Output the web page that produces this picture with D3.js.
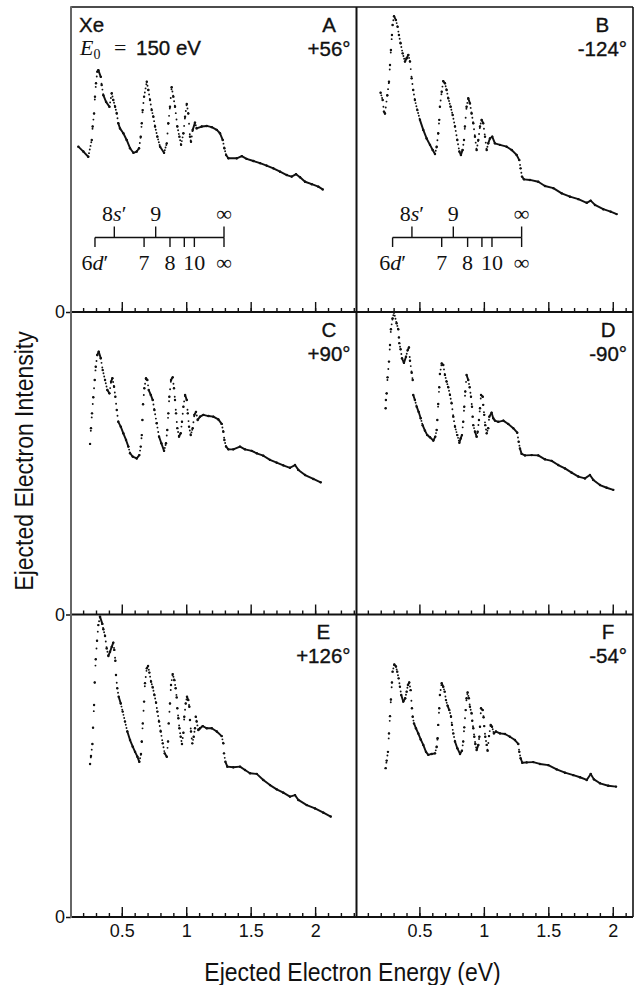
<!DOCTYPE html>
<html>
<head>
<meta charset="utf-8">
<script src="https://cdn.jsdelivr.net/npm/d3@7"></script>
<style>
  body { margin: 0; background: #fff; }
  svg { display: block; }
</style>
</head>
<body>
<svg id="chart" width="637" height="985"></svg>
<script>
// spectra: [ejected electron energy (eV), intensity (% of panel height)]
const panelA = [[0.163,54.2],[0.202,52.6],[0.240,50.9],[0.267,56.4],[0.274,60.8],[0.285,65.1],[0.292,70.6],[0.300,75.0],[0.310,78.8],[0.318,79.3],[0.337,77.1],[0.344,74.4],[0.357,71.1],[0.378,68.9],[0.404,67.3],[0.422,71.7],[0.434,69.5],[0.448,67.3],[0.461,65.1],[0.473,61.9],[0.486,60.2],[0.512,58.6],[0.538,56.4],[0.564,53.7],[0.590,52.2],[0.616,52.6],[0.634,53.7],[0.647,57.5],[0.655,61.9],[0.662,66.2],[0.673,70.6],[0.694,75.5],[0.706,72.8],[0.719,69.5],[0.732,66.2],[0.745,64.0],[0.758,60.8],[0.776,57.5],[0.797,54.2],[0.828,52.2],[0.849,55.3],[0.861,61.9],[0.874,67.3],[0.887,73.7],[0.900,70.6],[0.913,67.3],[0.931,60.8],[0.947,57.5],[0.960,54.8],[0.978,58.6],[0.991,64.0],[1.004,68.2],[1.016,65.1],[1.029,57.5],[1.037,55.8],[1.050,59.7],[1.068,62.1],[1.081,60.2],[1.120,60.8],[1.159,61.0],[1.198,60.6],[1.237,59.7],[1.262,58.6],[1.283,56.4],[1.296,53.7],[1.309,51.5],[1.327,50.4],[1.392,50.4],[1.431,51.1],[1.469,50.2],[1.521,49.5],[1.573,48.8],[1.624,48.0],[1.676,47.1],[1.728,46.0],[1.780,44.9],[1.818,44.4],[1.852,45.2],[1.883,44.2],[1.922,42.7],[1.974,41.9],[2.025,41.1],[2.059,40.2]]

const panelB = [[0.199,71.9],[0.215,69.5],[0.225,65.7],[0.233,65.1],[0.251,71.1],[0.264,75.5],[0.272,81.0],[0.279,85.9],[0.287,90.8],[0.292,94.1],[0.303,97.0],[0.318,95.7],[0.331,93.5],[0.341,90.8],[0.354,88.1],[0.370,84.8],[0.388,82.1],[0.401,83.2],[0.414,84.3],[0.427,82.1],[0.440,76.6],[0.452,72.8],[0.465,69.5],[0.484,66.2],[0.504,63.0],[0.530,59.7],[0.556,56.9],[0.582,54.8],[0.603,53.1],[0.621,51.8],[0.634,54.2],[0.646,58.6],[0.654,63.0],[0.659,67.3],[0.673,72.2],[0.685,75.7],[0.698,75.0],[0.711,72.8],[0.724,70.1],[0.742,67.3],[0.758,64.6],[0.776,60.8],[0.794,56.4],[0.810,52.6],[0.822,51.5],[0.835,53.1],[0.846,56.4],[0.853,60.8],[0.866,67.3],[0.879,70.1],[0.892,68.4],[0.905,65.1],[0.918,61.9],[0.931,57.5],[0.944,53.1],[0.957,56.4],[0.970,60.8],[0.983,63.0],[0.995,61.9],[1.009,57.5],[1.022,53.1],[1.034,55.3],[1.047,56.9],[1.065,57.5],[1.086,55.3],[1.125,54.8],[1.177,54.2],[1.216,53.1],[1.254,51.5],[1.275,49.8],[1.285,47.1],[1.296,44.4],[1.311,43.5],[1.358,43.3],[1.422,42.7],[1.474,41.3],[1.539,40.6],[1.604,38.9],[1.668,37.8],[1.733,37.0],[1.798,35.8],[1.829,36.5],[1.862,35.1],[1.926,33.7],[1.984,32.9],[2.030,32.1]]

const panelC = [[0.254,56.4],[0.261,61.6],[0.269,66.5],[0.279,71.8],[0.290,77.5],[0.298,81.9],[0.310,85.8],[0.321,86.9],[0.337,84.7],[0.352,80.8],[0.370,77.5],[0.388,74.2],[0.404,73.1],[0.417,77.0],[0.427,78.1],[0.440,75.3],[0.450,72.0],[0.461,67.6],[0.473,63.7],[0.492,62.1],[0.512,59.9],[0.533,57.7],[0.551,55.5],[0.564,53.3],[0.585,52.2],[0.616,51.6],[0.636,52.7],[0.647,55.5],[0.655,59.3],[0.660,64.3],[0.665,69.5],[0.675,74.8],[0.688,78.1],[0.698,77.5],[0.709,74.2],[0.725,72.6],[0.740,70.9],[0.753,67.6],[0.771,63.2],[0.789,58.8],[0.807,56.6],[0.828,54.1],[0.843,56.6],[0.853,61.0],[0.861,66.5],[0.869,72.0],[0.882,77.5],[0.895,78.4],[0.905,74.8],[0.913,70.9],[0.921,66.5],[0.931,61.6],[0.944,58.8],[0.957,59.9],[0.967,63.7],[0.978,68.7],[0.991,72.6],[1.004,70.9],[1.012,66.5],[1.022,62.1],[1.035,59.3],[1.050,61.6],[1.063,66.0],[1.076,67.0],[1.089,64.3],[1.107,65.4],[1.133,66.0],[1.172,65.6],[1.210,65.4],[1.249,64.5],[1.275,63.0],[1.288,60.4],[1.296,57.7],[1.309,55.5],[1.327,54.6],[1.365,54.6],[1.417,55.5],[1.456,54.6],[1.508,54.1],[1.547,53.3],[1.598,52.5],[1.650,51.1],[1.702,50.2],[1.753,49.3],[1.805,48.5],[1.844,49.4],[1.870,47.8],[1.922,46.1],[1.986,44.8],[2.043,43.7]]

const panelD = [[0.238,68.2],[0.240,70.9],[0.246,73.1],[0.253,78.4],[0.264,83.6],[0.272,89.1],[0.279,94.3],[0.292,97.9],[0.303,99.8],[0.323,96.3],[0.336,94.3],[0.341,91.6],[0.344,89.7],[0.354,87.7],[0.365,84.7],[0.380,83.2],[0.396,85.2],[0.409,87.4],[0.419,88.3],[0.427,83.9],[0.440,79.9],[0.448,77.5],[0.452,72.6],[0.465,70.9],[0.479,68.7],[0.494,67.0],[0.510,64.9],[0.525,62.6],[0.543,60.8],[0.561,59.3],[0.582,58.6],[0.608,57.5],[0.623,58.8],[0.634,61.0],[0.639,64.3],[0.646,69.6],[0.654,75.1],[0.659,79.5],[0.673,83.0],[0.685,82.5],[0.698,79.2],[0.711,77.0],[0.724,75.1],[0.737,72.6],[0.750,69.8],[0.763,65.4],[0.776,62.1],[0.794,59.3],[0.810,56.8],[0.820,58.2],[0.830,59.3],[0.840,63.7],[0.848,68.7],[0.856,73.7],[0.866,79.2],[0.879,77.5],[0.890,75.1],[0.900,72.0],[0.908,68.7],[0.913,65.4],[0.918,62.6],[0.931,60.4],[0.944,58.8],[0.952,60.4],[0.962,64.3],[0.970,68.2],[0.978,72.6],[0.991,72.0],[0.995,69.3],[1.003,66.0],[1.011,62.6],[1.022,59.9],[1.034,61.6],[1.042,65.4],[1.060,66.7],[1.073,64.9],[1.086,64.1],[1.112,63.7],[1.151,64.1],[1.189,63.0],[1.228,61.6],[1.259,60.1],[1.270,57.1],[1.280,54.9],[1.293,53.1],[1.319,52.6],[1.371,52.7],[1.422,52.6],[1.474,51.3],[1.526,50.8],[1.577,49.4],[1.629,48.3],[1.681,46.9],[1.733,45.6],[1.784,45.0],[1.823,46.1],[1.849,44.5],[1.901,42.8],[1.953,41.9],[2.004,41.2]]

const panelE = [[0.254,50.6],[0.261,53.2],[0.272,57.2],[0.277,62.6],[0.285,70.1],[0.290,77.5],[0.298,85.2],[0.308,91.3],[0.318,96.5],[0.331,99.3],[0.349,96.9],[0.357,95.1],[0.370,92.9],[0.383,88.8],[0.396,86.3],[0.409,87.7],[0.422,89.3],[0.434,90.7],[0.442,88.3],[0.450,84.7],[0.455,80.0],[0.465,75.6],[0.476,72.8],[0.492,70.6],[0.507,67.9],[0.525,64.6],[0.543,61.3],[0.564,58.5],[0.585,56.3],[0.603,54.6],[0.621,53.0],[0.636,51.3],[0.649,53.9],[0.655,58.0],[0.663,64.0],[0.673,71.2],[0.680,77.3],[0.694,82.2],[0.704,83.0],[0.714,80.8],[0.727,77.8],[0.740,75.9],[0.753,73.4],[0.766,70.8],[0.776,67.9],[0.789,64.6],[0.802,61.3],[0.818,57.4],[0.833,54.1],[0.849,53.0],[0.859,58.0],[0.864,64.0],[0.874,70.6],[0.882,76.7],[0.895,80.3],[0.908,78.3],[0.918,75.6],[0.926,72.6],[0.931,69.0],[0.939,65.7],[0.947,62.4],[0.957,59.6],[0.967,57.2],[0.978,60.9],[0.985,66.2],[0.996,70.6],[1.006,72.8],[1.016,71.7],[1.024,69.5],[1.029,65.1],[1.037,61.3],[1.047,57.4],[1.058,59.6],[1.068,62.4],[1.074,66.2],[1.081,64.6],[1.094,61.8],[1.107,62.4],[1.128,63.1],[1.159,62.4],[1.198,62.4],[1.237,61.3],[1.275,59.8],[1.288,57.4],[1.293,54.1],[1.304,51.3],[1.319,49.7],[1.365,49.5],[1.417,49.7],[1.456,48.6],[1.495,47.5],[1.547,47.3],[1.598,45.3],[1.650,43.6],[1.702,42.2],[1.753,41.1],[1.805,39.8],[1.844,40.3],[1.870,38.7],[1.935,37.0],[1.999,35.9],[2.064,34.5],[2.121,33.2]]

const panelF = [[0.238,49.2],[0.246,51.7],[0.256,54.6],[0.264,60.7],[0.272,66.4],[0.279,71.9],[0.287,77.5],[0.292,81.1],[0.305,83.5],[0.318,82.8],[0.328,81.1],[0.339,78.9],[0.349,76.1],[0.359,73.4],[0.375,71.2],[0.390,72.3],[0.401,74.5],[0.411,76.7],[0.421,77.5],[0.432,75.0],[0.442,69.0],[0.448,66.2],[0.458,64.0],[0.473,62.4],[0.491,60.7],[0.510,58.7],[0.530,56.9],[0.551,54.6],[0.569,53.6],[0.595,53.9],[0.621,54.1],[0.634,56.3],[0.641,59.1],[0.646,63.5],[0.654,69.0],[0.659,73.4],[0.673,77.3],[0.685,76.1],[0.696,74.5],[0.706,71.7],[0.719,69.8],[0.732,68.4],[0.745,66.2],[0.753,63.5],[0.763,60.7],[0.776,58.0],[0.794,55.8],[0.815,53.9],[0.830,55.0],[0.840,58.0],[0.848,62.7],[0.859,68.4],[0.866,72.3],[0.874,74.2],[0.884,72.3],[0.892,69.5],[0.905,67.3],[0.910,64.9],[0.918,62.4],[0.926,59.6],[0.934,57.2],[0.944,55.2],[0.957,56.9],[0.965,59.6],[0.970,62.9],[0.978,69.0],[0.991,68.4],[0.998,66.0],[1.003,63.1],[1.011,59.6],[1.022,56.9],[1.029,55.0],[1.040,59.8],[1.053,63.5],[1.063,62.9],[1.078,60.7],[1.094,61.3],[1.125,60.7],[1.164,60.5],[1.202,59.6],[1.241,58.5],[1.267,57.2],[1.275,54.6],[1.285,52.5],[1.298,51.0],[1.332,51.1],[1.383,51.2],[1.435,50.6],[1.500,50.2],[1.565,48.8],[1.629,47.7],[1.694,46.9],[1.746,46.2],[1.798,45.3],[1.829,47.3],[1.854,45.5],[1.901,44.2],[1.965,43.4],[2.025,43.1]]

const panelSeries = [panelA, panelB, panelC, panelD, panelE, panelF]
const panelLetters = ['A', 'B', 'C', 'D', 'E', 'F']
const panelAngles = ['+56°', '-124°', '+90°', '-90°', '+126°', '-54°']
const xTickValues = [0.5, 1, 1.5, 2]
const yTickValues = [0]

// Rydberg level markers (eV)
const sPrimeLevels = [0.442, 0.763, 1.293]
const sPrimeLabels = ['8s′', '9', '∞']
const dPrimeLevels = [0.292, 0.673, 0.874, 0.985, 1.063, 1.293]
const dPrimeLabels = ['6d′', '7', '8', '', '10', '∞']

// layout
const colRange = [[71, 356.5], [356.5, 633]]
const rowRange = [[7, 312], [312, 614.5], [614.5, 917]]
const xDomains = [[0.106, 2.321], [0.012, 2.157]]
const sans = "'Liberation Sans', Arial, sans-serif"
const serif = "'Liberation Serif', 'Times New Roman', serif"
const ink = '#111'
const dotStep = 0.75

const svg = d3.select('#chart')

function drawSpectrum(g, series, x, y) {
  const pts = series.map(d => [x(d[0]), y(d[1])])
  const line = d3.line()
  g.append('g')
    .attr('class', 'spectrum')
    .selectAll('path')
    .data(d3.pairs(pts))
    .join('path')
    .attr('d', d => line(d))
    .attr('fill', 'none')
    .attr('stroke', ink)
    .attr('stroke-width', 1.9)
    .attr('stroke-linecap', 'round')
    .attr('stroke-dasharray', d => {
      const dx = Math.abs(d[1][0] - d[0][0])
      const len = Math.hypot(d[1][0] - d[0][0], d[1][1] - d[0][1])
      const gap = dotStep * len / Math.max(dx, 0.05)
      return gap < 2.6 ? null : `0 ${gap}`
    })
  g.append('g')
    .attr('class', 'points')
    .selectAll('circle')
    .data(series)
    .join('circle')
    .attr('cx', d => x(d[0]))
    .attr('cy', d => y(d[1]))
    .attr('r', 1.2)
    .attr('fill', ink)
}

function levelLabel(sel) {
  sel.each(function (d) {
    const t = d3.select(this)
    const m = d.label.match(/^(\d+)([sd])′$/)
    if (m) {
      t.append('tspan').text(m[1])
      t.append('tspan').attr('font-style', 'italic').text(m[2])
      t.append('tspan').text('′')
    } else {
      t.text(d.label)
    }
  })
}

function drawLevels(g, x, base) {
  const lv = g.append('g').attr('class', 'levels')
  const upper = d3.zip(sPrimeLevels, sPrimeLabels).map(([e, label]) => ({ e, label }))
  const lower = d3.zip(dPrimeLevels, dPrimeLabels).map(([e, label]) => ({ e, label }))

  lv.append('line')
    .attr('x1', x(d3.min(dPrimeLevels)))
    .attr('x2', x(d3.max(dPrimeLevels)))
    .attr('y1', base)
    .attr('y2', base)
  lv.selectAll('.s-tick')
    .data(upper)
    .join('line')
    .attr('class', 's-tick')
    .attr('x1', d => x(d.e))
    .attr('x2', d => x(d.e))
    .attr('y1', base)
    .attr('y2', base - 11)
  lv.selectAll('.d-tick')
    .data(lower)
    .join('line')
    .attr('class', 'd-tick')
    .attr('x1', d => x(d.e))
    .attr('x2', d => x(d.e))
    .attr('y1', base)
    .attr('y2', base + 9.5)
  lv.selectAll('line').attr('stroke', ink).attr('stroke-width', 1.4)

  lv.selectAll('.s-label')
    .data(upper)
    .join('text')
    .attr('class', 's-label')
    .attr('x', d => x(d.e))
    .attr('y', base - 17)
    .call(levelLabel)
  lv.selectAll('.d-label')
    .data(lower.filter(d => d.label))
    .join('text')
    .attr('class', 'd-label')
    .attr('x', d => x(d.e))
    .attr('y', base + 32)
    .call(levelLabel)
  lv.selectAll('text')
    .attr('text-anchor', 'middle')
    .attr('font-family', serif)
    .attr('font-size', 22)
    .attr('fill', ink)
}

panelSeries.forEach((series, i) => {
  const col = i % 2
  const row = Math.floor(i / 2)
  const [top, bottom] = rowRange[row]
  const right = colRange[col][1]
  const x = d3.scaleLinear().domain(xDomains[col]).range(colRange[col])
  const y = d3.scaleLinear().domain([0, 100]).range([bottom, top])
  const g = svg.append('g').attr('class', `panel panel-${panelLetters[i]}`)

  // inward ticks along the bottom edge: minor every 0.1 eV, major every 0.5 eV
  const tickG = g.append('g').attr('transform', `translate(0,${bottom})`).attr('color', ink)
  tickG.append('g')
    .call(d3.axisTop(x).tickValues(x.ticks(20)).tickSize(4).tickFormat(''))
    .call(a => a.select('.domain').remove())
  tickG.append('g')
    .call(d3.axisTop(x).tickValues(xTickValues).tickSize(10).tickFormat(''))
    .call(a => a.select('.domain').remove())
  tickG.selectAll('line').attr('stroke-width', 1.4)

  if (row === 2) {
    const lab = g.append('g')
      .attr('transform', `translate(0,${bottom})`)
      .call(d3.axisBottom(x).tickValues(xTickValues).tickSize(0).tickFormat(d3.format('~g')))
      .call(a => a.select('.domain').remove())
    lab.selectAll('text')
      .attr('y', 20)
      .attr('dy', 0)
      .attr('font-family', sans)
      .attr('font-size', 18)
      .attr('fill', ink)
  }

  if (col === 0) {
    const ya = g.append('g')
      .attr('transform', `translate(${colRange[0][0]},0)`)
      .attr('color', ink)
      .call(d3.axisLeft(y).tickValues(yTickValues).tickSize(5).tickPadding(1).tickFormat(d3.format('d')))
      .call(a => a.select('.domain').remove())
    ya.selectAll('line').attr('stroke-width', 1.5)
    ya.selectAll('text')
      .attr('font-family', sans)
      .attr('font-size', 18)
      .attr('fill', ink)
  }

  drawSpectrum(g, series, x, y)

  if (row === 0) drawLevels(g, x, bottom - 74.5)

  // panel letter centred over the scattering angle
  const angle = g.append('text')
    .attr('x', right - 6)
    .attr('y', top + 48.5)
    .attr('text-anchor', 'end')
    .attr('font-family', sans)
    .attr('font-size', 20.5)
    .attr('stroke', ink)
    .attr('stroke-width', 0.35)
    .attr('fill', ink)
    .text(panelAngles[i])
  const w = angle.node().getComputedTextLength()
  g.append('text')
    .attr('x', right - 6 - w / 2)
    .attr('y', top + 24.5)
    .attr('text-anchor', 'middle')
    .attr('font-family', sans)
    .attr('font-size', 20.5)
    .attr('stroke', ink)
    .attr('stroke-width', 0.35)
    .attr('fill', ink)
    .text(panelLetters[i])
})

// target and impact energy note in panel A
const note = svg.append('g').attr('class', 'note')
note.append('text')
  .attr('x', 79)
  .attr('y', 31.5)
  .attr('font-family', sans)
  .attr('font-size', 20.5)
  .attr('stroke', ink)
  .attr('stroke-width', 0.35)
  .attr('fill', ink)
  .text('Xe')
const e0 = note.append('text').attr('x', 80).attr('y', 55).attr('font-size', 22).attr('fill', ink)
e0.append('tspan').attr('font-family', serif).attr('font-style', 'italic').attr('fill', ink).text('E')
e0.append('tspan').attr('font-family', serif).attr('font-size', 14).attr('dy', 4).attr('fill', ink).text('0')
e0.append('tspan').attr('font-family', serif).attr('x', 114).attr('dy', -4).attr('fill', ink).text('=')
e0.append('tspan').attr('font-family', sans).attr('font-size', 20.5)
  .attr('stroke', ink).attr('stroke-width', 0.35)
  .attr('x', 136).attr('fill', ink).text('150 eV')

// frame
const frame = svg.append('g').attr('class', 'frame').attr('fill', 'none')
const x0 = colRange[0][0]
const xMid = colRange[0][1]
const x1 = colRange[1][1]
const yTop = rowRange[0][0]
const yBot = rowRange[2][1]
frame.append('line').attr('x1', x0).attr('x2', x1).attr('y1', yTop).attr('y2', yTop)
  .attr('stroke', ink).attr('stroke-width', 1.6)
frame.append('line').attr('x1', x1).attr('x2', x1).attr('y1', yTop).attr('y2', yBot)
  .attr('stroke', ink).attr('stroke-width', 1.6)
frame.append('line').attr('x1', xMid).attr('x2', xMid).attr('y1', yTop).attr('y2', yBot)
  .attr('stroke', ink).attr('stroke-width', 2)
frame.selectAll('.row-line')
  .data(rowRange.map(r => r[1]))
  .join('line')
  .attr('class', 'row-line')
  .attr('x1', x0).attr('x2', x1)
  .attr('y1', d => d).attr('y2', d => d)
  .attr('stroke', ink).attr('stroke-width', 2)
frame.append('line').attr('x1', x0).attr('x2', x0).attr('y1', yTop - 0.8).attr('y2', yBot + 1)
  .attr('stroke', '#666').attr('stroke-width', 2)

// axis titles
svg.append('text')
  .attr('transform', `translate(352.5,981) scale(1,1.15)`)
  .attr('text-anchor', 'middle')
  .attr('font-family', sans)
  .attr('font-size', 23)
  .attr('fill', ink)
  .text('Ejected Electron Energy (eV)')
svg.append('text')
  .attr('transform', `translate(33,461) rotate(-90) scale(1,1.15)`)
  .attr('text-anchor', 'middle')
  .attr('font-family', sans)
  .attr('font-size', 23)
  .attr('fill', ink)
  .text('Ejected Electron Intensity')
</script>
</body>
</html>
